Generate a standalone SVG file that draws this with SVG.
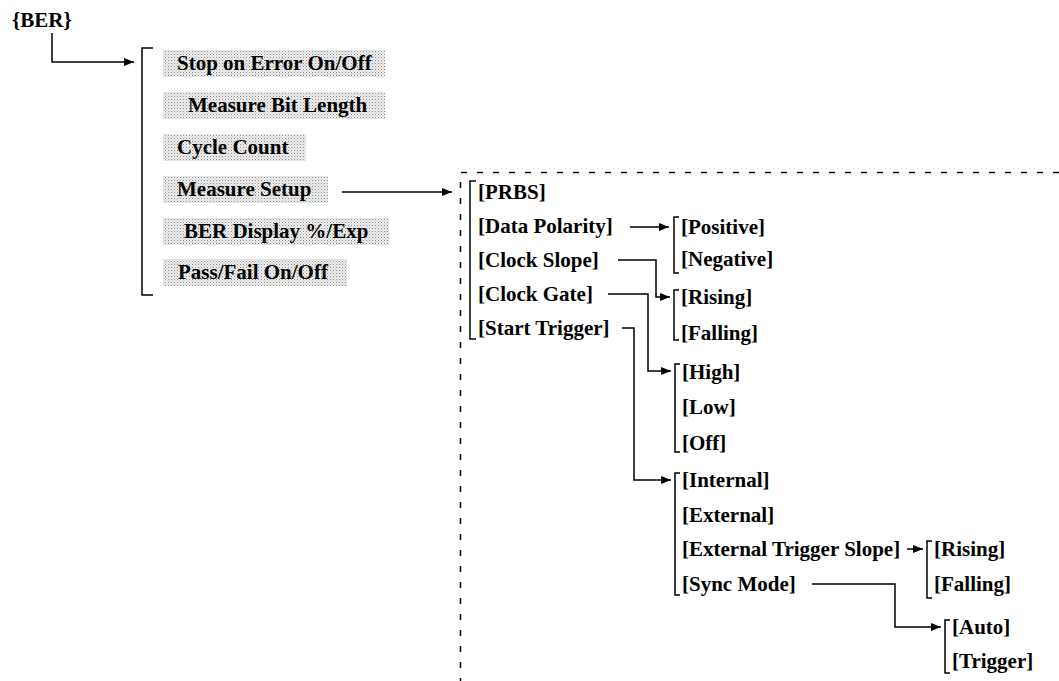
<svg xmlns="http://www.w3.org/2000/svg" width="1059" height="681" viewBox="0 0 1059 681">
<defs>
<style>
.t{font-family:"Liberation Serif","Times New Roman",serif;font-weight:bold;font-size:21px;fill:#000}
.ln{fill:none;stroke:#000;stroke-width:1.5}
.br{fill:none;stroke:#000;stroke-width:1.5}
.dash{fill:none;stroke:#000;stroke-width:1.5;stroke-dasharray:6 10}
.box{fill:url(#dots)}
</style>
<pattern id="dots" width="3" height="3" patternUnits="userSpaceOnUse">
<rect width="3" height="3" fill="#efefef"/>
<rect x="0" y="0" width="1" height="1" fill="#8a8a8a"/>
<rect x="1.5" y="1.5" width="1" height="1" fill="#b4b4b4"/>
</pattern>
<marker id="ah" markerWidth="11" markerHeight="9" refX="10" refY="4" orient="auto" markerUnits="userSpaceOnUse">
<path d="M0,0 L10,4 L0,8 z" fill="#000"/>
</marker>
</defs>
<rect width="1059" height="681" fill="#fff"/>

<g id="root"><text class="t" x="12" y="27">{BER}</text></g>

<g id="menu-bracket"><path class="br" d="M153,48 H142 V295 H153"/></g>

<g id="stop-on-error"><rect class="box" x="163" y="50" width="222" height="27"/><text class="t" x="177" y="70">Stop on Error On/Off</text></g>
<g id="measure-bit-length"><rect class="box" x="163" y="92" width="222" height="27"/><text class="t" x="188" y="112">Measure Bit Length</text></g>
<g id="cycle-count"><rect class="box" x="163" y="134" width="143" height="27"/><text class="t" x="177" y="154">Cycle Count</text></g>
<g id="measure-setup"><rect class="box" x="163" y="176" width="165" height="27"/><text class="t" x="177" y="196">Measure Setup</text></g>
<g id="ber-display"><rect class="box" x="163" y="218" width="226" height="27"/><text class="t" x="184" y="238">BER Display %/Exp</text></g>
<g id="pass-fail"><rect class="box" x="163" y="259" width="184" height="27"/><text class="t" x="178" y="279">Pass/Fail On/Off</text></g>

<g id="setup-frame"><path class="dash" d="M1059,172.5 H460.5 V681"/></g>

<g id="setup-list">
<path class="br" d="M476,181 H470 V339 H476"/>
<text class="t" x="478" y="199">[PRBS]</text>
<text class="t" x="478" y="233">[Data Polarity]</text>
<text class="t" x="478" y="267">[Clock Slope]</text>
<text class="t" x="478" y="301">[Clock Gate]</text>
<text class="t" x="478" y="335">[Start Trigger]</text>
</g>

<g id="polarity-list">
<path class="br" d="M679,217 H674 V273 H679"/>
<text class="t" x="681" y="234">[Positive]</text>
<text class="t" x="681" y="266">[Negative]</text>
</g>

<g id="slope-list">
<path class="br" d="M679,290 H674 V340 H679"/>
<text class="t" x="681" y="304">[Rising]</text>
<text class="t" x="681" y="340">[Falling]</text>
</g>

<g id="gate-list">
<path class="br" d="M680,364 H675 V452 H680"/>
<text class="t" x="682" y="379">[High]</text>
<text class="t" x="682" y="414">[Low]</text>
<text class="t" x="682" y="450">[Off]</text>
</g>

<g id="trigger-list">
<path class="br" d="M680,473 H675 V595 H680"/>
<text class="t" x="682" y="487">[Internal]</text>
<text class="t" x="682" y="522">[External]</text>
<text class="t" x="682" y="556">[External Trigger Slope]</text>
<text class="t" x="682" y="591">[Sync Mode]</text>
</g>

<g id="ext-slope-list">
<path class="br" d="M932,541 H927 V598 H932"/>
<text class="t" x="934" y="556">[Rising]</text>
<text class="t" x="934" y="591">[Falling]</text>
</g>

<g id="sync-list">
<path class="br" d="M950,620 H945 V673 H950"/>
<text class="t" x="952" y="634">[Auto]</text>
<text class="t" x="952" y="668">[Trigger]</text>
</g>

<g id="connectors">
<path class="ln" d="M52,33 V62 H134" marker-end="url(#ah)"/>
<path class="ln" d="M342,192 H452" marker-end="url(#ah)"/>
<path class="ln" d="M630,227 H669" marker-end="url(#ah)"/>
<path class="ln" d="M618,260 H656 V297 H670" marker-end="url(#ah)"/>
<path class="ln" d="M608,294 H648 V371 H671" marker-end="url(#ah)"/>
<path class="ln" d="M622,328 H634 V480 H671" marker-end="url(#ah)"/>
<path class="ln" d="M907,549 H923" marker-end="url(#ah)"/>
<path class="ln" d="M812,584 H895 V627 H941" marker-end="url(#ah)"/>
</g>
</svg>
